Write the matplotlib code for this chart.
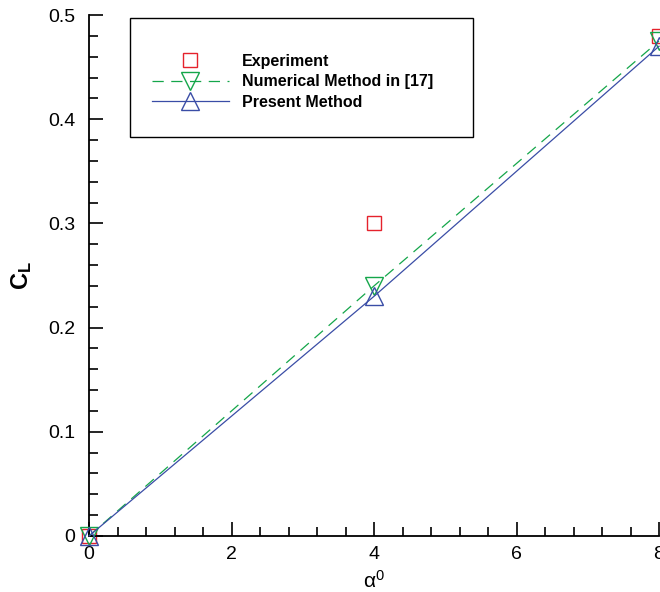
import matplotlib.pyplot as plt
from matplotlib.lines import Line2D
from matplotlib.patches import Rectangle
from matplotlib.ticker import MultipleLocator

plt.rcParams['font.family'] = ['Liberation Sans', 'DejaVu Sans']
plt.rcParams['mathtext.fontset'] = 'custom'
plt.rcParams['mathtext.rm'] = 'Liberation Sans'
plt.rcParams['mathtext.it'] = 'Liberation Sans'
plt.rcParams['mathtext.bf'] = 'Liberation Sans:bold'

# 攻角与升力系数
alpha_exp = [0, 4, 8]
cl_exp = [0.0, 0.30, 0.48]
alpha_ref = [0, 4, 8]
cl_ref = [0.0, 0.24, 0.475]
alpha_now = [0, 4, 8]
cl_now = [0.0, 0.23, 0.47]

red = '#e5222c'
green = '#14a64a'
blue = '#3a4da6'

fig = plt.figure(figsize=(6.6, 5.92), dpi=100)
ax = fig.add_axes([89 / 660, 1 - 536 / 592, 570 / 660, 521 / 592])

ax.plot(alpha_ref, cl_ref, color=green, lw=0.9, dashes=(9, 6),
        marker='v', ms=12.5, mfc='none', mec=green, mew=1.0, clip_on=False, zorder=3)
ax.plot(alpha_now, cl_now, color=blue, lw=0.9,
        marker='^', ms=12.5, mfc='none', mec=blue, mew=1.0, clip_on=False, zorder=4)
ax.plot(alpha_exp, cl_exp, ls='none', marker='s', ms=10, mfc='none',
        mec=red, mew=1.0, clip_on=False, zorder=2)

ax.set_xlim(0, 8)
ax.set_ylim(0, 0.5)
ax.xaxis.set_major_locator(MultipleLocator(2))
ax.xaxis.set_minor_locator(MultipleLocator(0.4))
ax.yaxis.set_major_locator(MultipleLocator(0.1))
ax.yaxis.set_minor_locator(MultipleLocator(0.02))
ax.set_yticks([0, 0.1, 0.2, 0.3, 0.4, 0.5], ['0', '0.1', '0.2', '0.3', '0.4', '0.5'])

for s in ['top', 'right']:
    ax.spines[s].set_visible(False)
for s in ['left', 'bottom']:
    ax.spines[s].set_linewidth(1.3)

ax.tick_params(which='major', direction='in', length=10, width=1.2, labelsize=14)
ax.tick_params(axis='y', which='major', pad=10)
ax.tick_params(axis='x', which='major', pad=7)
ax.tick_params(which='minor', direction='in', length=6.5, width=1.2)

ax.set_xlabel(r'$\alpha^0$', fontsize=15, labelpad=5)
ax.set_ylabel(r'C$_\mathbf{L}$', fontsize=17, fontweight='bold', labelpad=10)

# 图例外框
ax.add_patch(Rectangle((41 / 570, 399 / 521), 343 / 570, 119 / 521,
                       transform=ax.transAxes, fill=False, ec='black', lw=1.0,
                       clip_on=False, zorder=5))

handles = [
    Line2D([], [], ls='none', marker='s', ms=10, mfc='none', mec=red, mew=1.0),
    Line2D([], [], color=green, lw=0.9, dashes=(9, 6), marker='v', ms=12.5,
           mfc='none', mec=green, mew=1.0),
    Line2D([], [], color=blue, lw=0.9, marker='^', ms=12.5, mfc='none', mec=blue, mew=1.0),
]
labels = ['Experiment', 'Numerical Method in [17]', 'Present Method']
ax.legend(handles, labels, loc='upper left', bbox_to_anchor=(63 / 570, 482 / 521),
          frameon=False, borderpad=0, borderaxespad=0, handlelength=4.8,
          handletextpad=0.85, labelspacing=0.34, numpoints=1,
          prop={'weight': 'bold', 'size': 11.5})

fig.savefig('out.png', dpi=100)
